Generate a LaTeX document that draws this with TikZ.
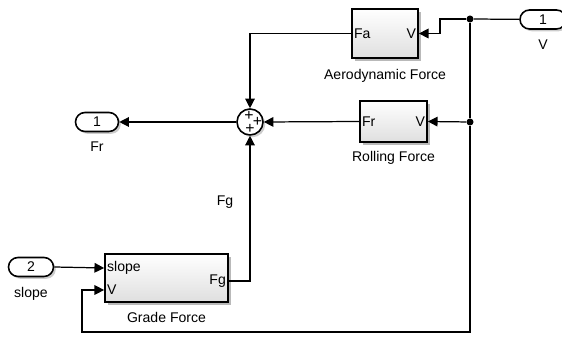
\documentclass[tikz,border=0pt]{standalone}
\usepackage{fontspec}
\setmainfont{Liberation Sans}
\usetikzlibrary{arrows.meta, calc, positioning, shapes.misc, shadows}
\colorlet{blockgray}{gray!25}

\begin{document}
\begin{tikzpicture}[
    x=0.02cm, y=-0.02cm,
    font=\fontsize{8}{9.6}\selectfont,
    block/.style={draw, line width=1pt, top color=white, bottom color=blockgray, inner sep=0pt,
        drop shadow={shadow xshift=1.8pt, shadow yshift=-1.8pt, opacity=0.55}},
    port/.style={draw, rounded rectangle, line width=0.9pt, fill=white, minimum height=0.38cm, inner sep=0pt,
        drop shadow={shadow xshift=1.3pt, shadow yshift=-1.3pt, opacity=0.4}},
    sumblk/.style={draw, circle, line width=0.9pt, fill=white, minimum size=0.52cm, inner sep=0pt,
        drop shadow={shadow xshift=1.3pt, shadow yshift=-1.3pt, opacity=0.4}},
    pin/.style={inner sep=1.5pt},
    plus/.style={inner sep=0pt, font=\fontsize{9}{9}\selectfont},
    dot/.style={circle, fill=black, minimum size=4pt, inner sep=0pt},
    sig/.style={-{Triangle[length=5.5pt, width=5.5pt]}, line width=0.7pt},
    wire/.style={line width=0.7pt},
]
\useasboundingbox (0,0) rectangle (562,337);

% Blocks
\node[block, minimum width=1.32cm, minimum height=0.98cm] (aero)  at (385,33.5) {};
\node[block, minimum width=1.34cm, minimum height=0.82cm] (roll)  at (393.5,121.5) {};
\node[block, minimum width=2.46cm, minimum height=0.96cm] (grade) at (166.5,278) {};
\node[sumblk] (sum) at (250,122) {};

% Block labels
\node[below=2.5pt of aero]  (aerolbl)  {Aerodynamic Force};
\node[below=1.5pt of roll]  (rolllbl)  {Rolling Force};
\node[below=2pt of grade]   (gradelbl) {Grade Force};

% Port labels inside blocks
\node[pin, anchor=west] (aeroFa) at (aero.west) {Fa};
\node[pin, anchor=east] (aeroV)  at (aero.east) {V};
\node[pin, anchor=west] (rollFr) at (roll.west) {Fr};
\node[pin, anchor=east] (rollV)  at (roll.east) {V};
\coordinate (gslope) at ($(grade.west)+(0,-10)$);
\coordinate (gV)     at ($(grade.west)+(0,12)$);
\coordinate (gFg)    at ($(grade.east)+(0,3)$);
\node[pin, anchor=west] (gradeslope) at (gslope) {slope};
\node[pin, anchor=west] (gradeV)     at (gV) {V};
\node[pin, anchor=east] (gradeFg)    at (gFg) {Fg};

% Sum signs
\node[plus] (plusT) at (249,115.5) {+};
\node[plus] (plusR) at (257.5,122) {+};
\node[plus] (plusB) at (250,129) {+};

% In/out ports
\node[port, minimum width=0.92cm] (inV)    at (543,19.5) {1};
\node[below=2pt of inV]           (inVlbl) {V};
\node[port, minimum width=0.86cm] (outFr)  at (97,122) {1};
\node[below=2pt of outFr]         (outFrlbl) {Fr};
\node[port, minimum width=0.90cm] (inslope) at (31,267) {2};
\node[below=2pt of inslope]       (inslopelbl) {slope};

% Junctions
\node[dot] (jV) at (470,19) {};
\node[dot] (jR) at (470,122) {};
\coordinate (bend)  at (440,19);
\coordinate (botR)  at (470,332);
\coordinate (botL)  at (82,332);

% Velocity distribution
\draw[wire] (inV) -- (jV);
\draw[sig] (jV) -- (bend) |- (aero.east);
\draw[wire] (jV) -- (jR);
\draw[sig] (jR) -- (roll.east);
\draw[sig] (jR) -- (botR) -- (botL) |- (gV);

% Forces into the sum
\draw[sig] (aero.west) -| (sum.north);
\draw[sig] (roll.west) -- (sum.east);
\draw[sig] (gFg) -| (sum.south);
\node (fglbl) at (225,202) {Fg};
\draw[sig] (sum.west) -- (outFr.east);
\draw[sig] (inslope.east) -- (gslope);

\end{tikzpicture}
\end{document}
